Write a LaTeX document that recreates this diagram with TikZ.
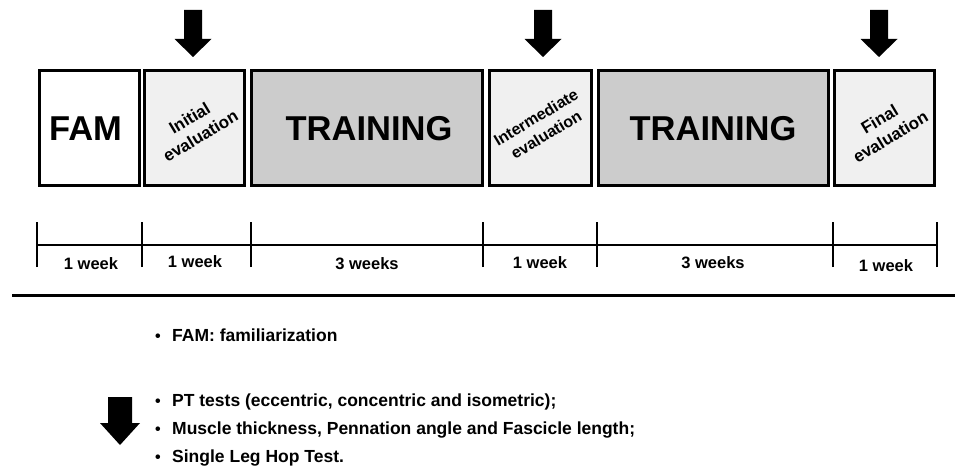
\documentclass[tikz,border=0pt]{standalone}
\usepackage{fontspec}
\setmainfont{Liberation Sans}
\begin{document}
\begin{tikzpicture}[x=1pt,y=-1pt,
  phase/.style={draw=black,line width=3pt,inner sep=0pt,minimum height=115pt,font=\bfseries},
  famfill/.style={phase,fill=white},
  evalbox/.style={phase,fill=black!6},
  trainbox/.style={phase,fill=black!20},
  bigtxt/.style={font=\fontsize{34.5}{40}\selectfont\bfseries},
  evaltxt/.style={font=\fontsize{17}{21}\selectfont\bfseries,align=center,rotate=31,inner sep=0pt},
  weektxt/.style={font=\fontsize{16.5}{18}\selectfont\bfseries,inner sep=0pt},
  bullettxt/.style={font=\fontsize{17.5}{19}\selectfont\bfseries,anchor=base west,inner sep=0pt},
  blt/.style={font=\fontsize{16}{18}\selectfont\bfseries,anchor=base,inner sep=0pt},
  tl/.style={line width=2.5pt},
  bigarrow/.style={fill=black}]
\useasboundingbox (0,0) rectangle (955,470);
% boxes
\node[famfill,minimum width=100pt] (fam) at (89,128.5) {};
\node[evalbox,minimum width=100pt] (ini) at (194,128.5) {};
\node[trainbox,minimum width=231pt] (tr1) at (366.5,128.5) {};
\node[evalbox,minimum width=102pt] (mid) at (540,128.5) {};
\node[trainbox,minimum width=230pt] (tr2) at (713,128.5) {};
\node[evalbox,minimum width=100pt] (fin) at (884,128.5) {};
% texts
\node[bigtxt] (famt) at (85.5,128.5) {FAM};
\node[bigtxt] (tr1t) at (369,128.5) {TRAINING};
\node[bigtxt] (tr2t) at (713,128.5) {TRAINING};
\node[evaltxt] (init) at (195,127) {Initial\\evaluation};
\node[evaltxt,font=\fontsize{16}{20}\selectfont\bfseries] (midt) at (541,126) {Intermediate\\evaluation};
\node[evaltxt] (fint) at (885,128) {Final\\evaluation};
% top arrows
\foreach \cx/\nm in {193/a1,543/a2,879/a3}{
  \fill[bigarrow] (\cx-9,10) -- (\cx+9,10) -- (\cx+9,39) -- (\cx+18.5,39) -- (\cx,57) -- (\cx-18.5,39) -- (\cx-9,39) -- cycle;
}
% timeline
\coordinate (t0) at (37,245);
\coordinate (t1) at (142,245);
\coordinate (t2) at (251,245);
\coordinate (t3) at (483,245);
\coordinate (t4) at (597,245);
\coordinate (t5) at (833,245);
\coordinate (t6) at (937,245);
\draw[tl] (t0) -- (t6);
\foreach \c in {t0,t1,t2,t3,t4,t5,t6}{
  \draw[tl] ([yshift=-22pt]\c) -- ([yshift=23pt]\c);
}
\node[weektxt] (w1) at (91,264) {1 week};
\node[weektxt] (w2) at (195,262) {1 week};
\node[weektxt] (w3) at (367,264) {3 weeks};
\node[weektxt] (w4) at (540,263) {1 week};
\node[weektxt] (w5) at (713,263) {3 weeks};
\node[weektxt] (w6) at (886,266) {1 week};
% separator
\coordinate (s0) at (12,295);
\coordinate (s1) at (955,295);
\draw[line width=3pt] (s0) -- (s1);
% legend
\node[blt] (b1) at (158,341) {•};
\node[bullettxt] (l1) at (172,341) {FAM: familiarization};
\node[blt] (b2) at (158,406) {•};
\node[bullettxt] (l2) at (172,406) {PT tests (eccentric, concentric and isometric);};
\node[blt] (b3) at (158,434) {•};
\node[bullettxt] (l3) at (172,434) {Muscle thickness, Pennation angle and Fascicle length;};
\node[blt] (b4) at (158,462) {•};
\node[bullettxt] (l4) at (172,462) {Single Leg Hop Test.};
\fill[bigarrow] (108,397) -- (132,397) -- (132,423) -- (140,423) -- (120,445) -- (100,423) -- (108,423) -- cycle;
\end{tikzpicture}
\end{document}
